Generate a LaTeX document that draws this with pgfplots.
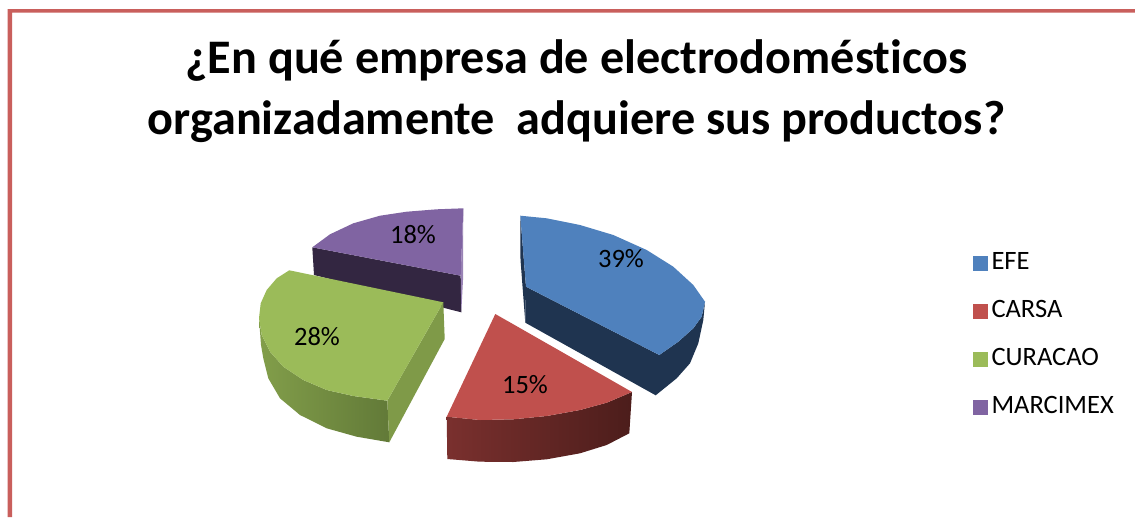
\documentclass[border=0pt]{standalone}
\usepackage{fontspec}
\setmainfont{Carlito}[Ligatures=NoCommon]
\usepackage{pgfplots}
\pgfplotsset{compat=1.18}
\definecolor{cblue}{HTML}{4F81BD}
\definecolor{cred}{HTML}{C0504D}
\definecolor{cgreen}{HTML}{9BBB59}
\definecolor{cpurple}{HTML}{8064A2}
\definecolor{cframe}{HTML}{C95F5C}
\begin{document}
\begin{tikzpicture}
\begin{axis}[
  scale only axis, width=1135pt, height=517pt,
  xmin=0, xmax=1135, ymin=0, ymax=517, y dir=reverse,
  hide axis,
  legend image code/.code={\fill[#1] (0pt,-7.5pt) rectangle (15pt,7.5pt);},
  legend style={draw=none, fill=none, anchor=north west, at={(axis cs:973,251)},
    inner sep=0pt, outer sep=0pt, row sep=24.3pt, font=\fontsize{26.5}{28}\selectfont,
    nodes={inner sep=0pt, text height=18pt, text depth=6pt},
    column sep=3.5pt},
  legend cell align=left,
]
% page background, which fixes the picture's extent
\addplot[forget plot, draw=none, fill=white] coordinates {(0,0)(1135,0)(1135,517)(0,517)} -- cycle;
% frame
\addplot[forget plot, draw=none, fill=cframe] coordinates {(7.5,517)(7.5,9)(1135,9)(1135,12.5)(12,12.5)(12,517)} -- cycle;
% side faces
\addplot[forget plot, draw=none, fill={rgb,255:red,51;green,38;blue,65}] coordinates {(312.3,247.3)(460.7,275.7)(461.3,312.3)(314,275)} -- cycle;
\addplot[forget plot, draw=none, fill=cpurple!80!white] coordinates {(463.3,208.3)(460.7,275.7)(461.3,312.3)(463,280)} -- cycle;
\addplot[forget plot, draw=none, fill={rgb,255:red,31;green,52;blue,80}] coordinates {(520.3,215.7)(526,286.7)(525.3,322.7)(520.5,260)} -- cycle;
\addplot[forget plot, draw=none, fill={rgb,255:red,31;green,52;blue,80}] coordinates {(526,286.7)(659.3,355)(678.3,341.7)(693.3,328.3)(701.7,316.7)(705,301.7)(703.3,320)(698.3,343.3)(690,363.3)(676.7,378.3)(655.7,395.3)(525.3,322.7)} -- cycle;
\addplot[forget plot, draw=none, left color={rgb,255:red,122;green,48;blue,46}, right color={rgb,255:red,76;green,29;blue,27}] coordinates {(446.7,416.7)(480,420)(513.3,419.3)(546.7,416)(580,410)(606.7,402.7)(632,392)(629.3,433.3)(606.7,445)(580,453.3)(546.7,459.3)(513.3,462)(480,461.7)(447.3,459)} -- cycle;
\addplot[forget plot, draw=none, left color={rgb,255:red,130;green,158;blue,74}, right color={rgb,255:red,98;green,122;blue,56}] coordinates {(259,318.3)(261.7,335)(270,351.7)(283.3,366.7)(303.3,380)(326.7,390)(353.3,396)(387.3,400.7)(389.3,442.3)(356.7,436.7)(326.7,428.3)(300,415)(280,398.3)(268.3,378.3)(263.3,358.3)(261,345)} -- cycle;
\addplot[forget plot, draw=none, fill={rgb,255:red,127;green,154;blue,72}] coordinates {(387.3,400.7)(443.3,302.3)(444.7,339)(389.3,442.3)} -- cycle;
% top faces (share of each firm: 39, 15, 28, 18 %)
\addplot[draw=none, fill=cblue] coordinates {(520.3,215.7)(546.7,218.3)(580,225)(613.3,235)(646.7,250)(673.3,266.7)(693.3,285)(705,301.7)(701.7,316.7)(693.3,328.3)(678.3,341.7)(659.3,355)(526,286.7)} -- cycle;
\addlegendentry{EFE}
\addplot[draw=none, fill=cred] coordinates {(495.3,314)(446.7,416.7)(480,420)(513.3,419.3)(546.7,416)(580,410)(606.7,402.7)(632,392)} -- cycle;
\addlegendentry{CARSA}
\addplot[draw=none, fill=cgreen] coordinates {(289.3,270.3)(276.7,278.3)(266.7,290)(260.7,303.3)(259,318.3)(261.7,335)(270,351.7)(283.3,366.7)(303.3,380)(326.7,390)(353.3,396)(387.3,400.7)(443.3,302.3)} -- cycle;
\addlegendentry{CURACAO}
\addplot[draw=none, fill=cpurple] coordinates {(312.3,247.3)(330,234.3)(353.3,223.3)(380,215.7)(406.7,211.7)(436.7,209.3)(463.3,208.3)(460.7,275.7)} -- cycle;
\addlegendentry{MARCIMEX}
% labels
\node[font=\fontsize{26.5}{28}\selectfont] at (axis cs:621,259) {39\%};
\node[font=\fontsize{26.5}{28}\selectfont] at (axis cs:525,385) {15\%};
\node[font=\fontsize{26.5}{28}\selectfont] at (axis cs:317,337) {28\%};
\node[font=\fontsize{26.5}{28}\selectfont] at (axis cs:413,235) {18\%};
% title
\node[font=\fontsize{48.2}{61}\selectfont\bfseries, align=center, anchor=center] at (axis cs:576.5,91) {¿En qué empresa de electrodomésticos\\organizadamente\ \ adquiere sus productos?};
\end{axis}
\end{tikzpicture}
\end{document}
